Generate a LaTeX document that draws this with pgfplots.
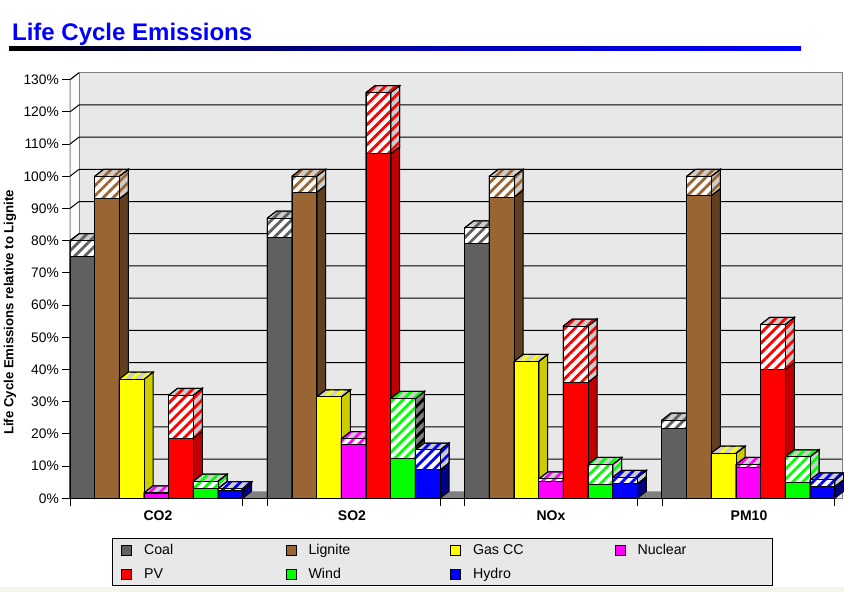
\documentclass[border=0pt]{standalone}
\usepackage{fontspec}
\setmainfont{Liberation Sans}
\usepackage{pgfplots}
\pgfplotsset{compat=1.18}
\usetikzlibrary{patterns.meta}
\definecolor{wall}{HTML}{E8E8E8}
\definecolor{floorc}{HTML}{808080}
\definecolor{hbase}{HTML}{CDCDCD}
\definecolor{coal}{HTML}{606060}\definecolor{coaldk}{HTML}{404040}
\definecolor{lignite}{HTML}{996633}\definecolor{lignitedk}{HTML}{604020}
\definecolor{gas}{HTML}{FFFF00}\definecolor{gasdk}{HTML}{CCCC00}
\definecolor{nuclear}{HTML}{FF00FF}\definecolor{nucleardk}{HTML}{C000C0}
\definecolor{pv}{HTML}{FF0000}\definecolor{pvdk}{HTML}{C00000}
\definecolor{wind}{HTML}{00FF00}\definecolor{winddk}{HTML}{00C000}
\definecolor{hydro}{HTML}{0000FF}\definecolor{hydrodk}{HTML}{000080}
\tikzset{
  hatch/.style 2 args={fill=#1,postaction={pattern={Lines[angle=45,distance=7.1bp,line width=2.8bp]},pattern color=#2}},
  face/.style={draw=black,line width=1bp,line join=miter},
}
\def\SB{hbase}\def\SS{}
\newcommand\B[5]{%
  \pgfmathsetmacro\xa{70+197.33*#1+24.67*#2}%
  \pgfmathsetmacro\xb{\xa+24.67}%
  \pgfmathsetmacro\xc{\xa+9}%
  \pgfmathsetmacro\xd{\xb+9}%
  \pgfmathsetmacro\yv{#3+2.17}%
  \pgfmathsetmacro\yu{#4+2.17}%
  \edef\temp{%
    \noexpand\addplot[forget plot,mark=none,sharp plot,face,fill=#5dk] coordinates {(\xb,0) (\xd,2.17) (\xd,\yv) (\xb,#3)} \noexpand\closedcycle;
    \noexpand\addplot[forget plot,mark=none,sharp plot,face,hatch={\SB}{\ifx\SS\empty #5\else\SS\fi}] coordinates {(\xb,#3) (\xd,\yv) (\xd,\yu) (\xb,#4)} \noexpand\closedcycle;
    \noexpand\addplot[forget plot,mark=none,sharp plot,face,hatch={hbase}{#5}] coordinates {(\xa,#4) (\xc,\yu) (\xd,\yu) (\xb,#4)} \noexpand\closedcycle;
    \noexpand\addplot[forget plot,mark=none,sharp plot,face,hatch={white}{#5}] coordinates {(\xa,#3) (\xa,#4) (\xb,#4) (\xb,#3)} \noexpand\closedcycle;
    \noexpand\addplot[forget plot,mark=none,sharp plot,face,fill=#5] coordinates {(\xa,0) (\xa,#3) (\xb,#3) (\xb,0)} \noexpand\closedcycle;
  }\temp
}
\newcommand\Grid[1]{%
  \pgfmathsetmacro\yb{#1+2.17}%
  \edef\temp{\noexpand\addplot[forget plot,mark=none,black,line width=1bp] coordinates {(70,#1) (79,\yb) (842,\yb)};}\temp
}
\begin{document}
\begin{tikzpicture}[x=1bp,y=1bp]
\path[use as bounding box] (0,0) rectangle (844,592);
\fill[fill=white] (0,0) rectangle (844,592);
\fill[fill={rgb,255:red,244;green,244;blue,236}] (0,0) rectangle (844,5);
\shade[left color=black,right color=blue,middle color=black!35!blue] (9,541) rectangle (801,545);
\begin{axis}[
  at={(70bp,93.7bp)},anchor=south west,
  scale only axis,x=1bp,y=3.22bp,
  xmin=70,xmax=843,ymin=0,ymax=132.17,clip=false,
  axis x line=bottom,axis y line=left,
  axis line style={draw=none},
  tick align=outside,
  tick style={black,line width=1bp},
  major tick length=7.5bp,
  xtick={70,242.67,267.33,440,464.67,637.33,662,834.67},
  xticklabels={,,,,,,,},
  extra x ticks={158,352,551,749},
  extra x tick labels={CO2,SO2,NOx,PM10},
  extra x tick style={major tick length=0pt,tick style={draw=none},
    xticklabel style={font=\fontsize{14bp}{15bp}\selectfont\bfseries,inner sep=0pt,anchor=base,yshift=-22bp}},
  ytick={0,10,...,130},
  yticklabel={\pgfmathprintnumber{\tick}\%},
  /pgf/number format/assume math mode=true,
  yticklabel style={font=\fontsize{13.8bp}{15bp}\selectfont,inner sep=0pt,xshift=-3.5bp},
  ylabel={Life Cycle Emissions relative to Lignite},
  every axis y label/.style={at={(axis description cs:-0.0777,0.4366)},rotate=90,anchor=center,
    font=\fontsize{13.2bp}{15bp}\selectfont\bfseries},
  title={Life Cycle Emissions},
  every axis title/.style={at={(axis description cs:-0.0751,1.0768)},anchor=base west,inner sep=0pt,
    font=\fontsize{24bp}{26bp}\selectfont\bfseries,text=blue},
  legend columns=4,
  legend cell align=left,
  legend image code/.code={\draw[#1,line width=1bp] (0bp,-5bp) rectangle (10bp,5bp);},
  legend style={at={(axis description cs:0.0544,-0.0933)},anchor=north west,
    draw=black,line width=1bp,fill=wall,inner xsep=8.5bp,inner ysep=6bp,
    row sep=13bp,
    nodes={inner sep=0pt,font=\fontsize{14.2bp}{16bp}\selectfont,text height=9bp,text depth=1bp}},
]
% walls and floor
\addplot[forget plot,mark=none,fill=wall,draw=floorc,line width=1bp] coordinates {(79,2.17) (79,132.17) (842,132.17) (842,2.17)} \closedcycle;
\addplot[forget plot,mark=none,fill=floorc,draw=none] coordinates {(70,0) (79,2.17) (843,2.17) (834.67,0)} \closedcycle;
\addplot[forget plot,mark=none,draw=floorc,line width=1bp] coordinates {(70,0) (70,130) (79,132.17)};
\Grid{10}\Grid{20}\Grid{30}\Grid{40}\Grid{50}\Grid{60}\Grid{70}\Grid{80}\Grid{90}\Grid{100}\Grid{110}\Grid{120}
\addplot[forget plot,mark=none,black,line width=1bp] coordinates {(70,130) (79,132.17)};
% CO2
\B{0}{0}{75}{80}{coal}
\B{0}{1}{93}{100}{lignite}
\B{0}{2}{37}{37}{gas}
\B{0}{3}{1.5}{1.7}{nuclear}
\B{0}{4}{18.7}{32}{pv}
\B{0}{5}{3}{5.3}{wind}
\B{0}{6}{2.5}{3}{hydro}
% SO2
\B{1}{0}{81}{87}{coal}
\B{1}{1}{95}{100}{lignite}
\B{1}{2}{31.5}{31.5}{gas}
\B{1}{3}{16.8}{18.5}{nuclear}
\B{1}{4}{107}{126}{pv}
\def\SB{floorc}\def\SS{black}
\B{1}{5}{12.4}{31}{wind}
\def\SB{hbase}\def\SS{}
\B{1}{6}{8.8}{15}{hydro}
% NOx
\B{2}{0}{79}{84}{coal}
\B{2}{1}{93.5}{100}{lignite}
\B{2}{2}{42.5}{42.5}{gas}
\B{2}{3}{5.3}{6}{nuclear}
\B{2}{4}{36}{53.5}{pv}
\B{2}{5}{4.4}{10.5}{wind}
\B{2}{6}{4.5}{6.5}{hydro}
% PM10
\B{3}{0}{21.7}{24.3}{coal}
\B{3}{1}{94}{100}{lignite}
\B{3}{2}{14}{14}{gas}
\B{3}{3}{9.5}{10.5}{nuclear}
\B{3}{4}{40}{54}{pv}
\B{3}{5}{4.9}{12.9}{wind}
\B{3}{6}{3.6}{5.7}{hydro}
% axis floor line
\addplot[forget plot,mark=none,black,line width=1bp] coordinates {(70,0) (834.67,0)};
% legend
\addlegendimage{fill=coal,draw=black}\addlegendentry{\hspace*{12bp}\makebox[141.5bp][l]{Coal}}
\addlegendimage{fill=lignite,draw=black}\addlegendentry{\hspace*{12bp}\makebox[141.5bp][l]{Lignite}}
\addlegendimage{fill=gas,draw=black}\addlegendentry{\hspace*{12bp}\makebox[141.5bp][l]{Gas CC}}
\addlegendimage{fill=nuclear,draw=black}\addlegendentry{\hspace*{12bp}\makebox[126bp][l]{Nuclear}}
\addlegendimage{fill=pv,draw=black}\addlegendentry{\hspace*{12bp}\makebox[141.5bp][l]{PV}}
\addlegendimage{fill=wind,draw=black}\addlegendentry{\hspace*{12bp}\makebox[141.5bp][l]{Wind}}
\addlegendimage{fill=hydro,draw=black}\addlegendentry{\hspace*{12bp}\makebox[141.5bp][l]{Hydro}}
\end{axis}
\end{tikzpicture}
\end{document}
